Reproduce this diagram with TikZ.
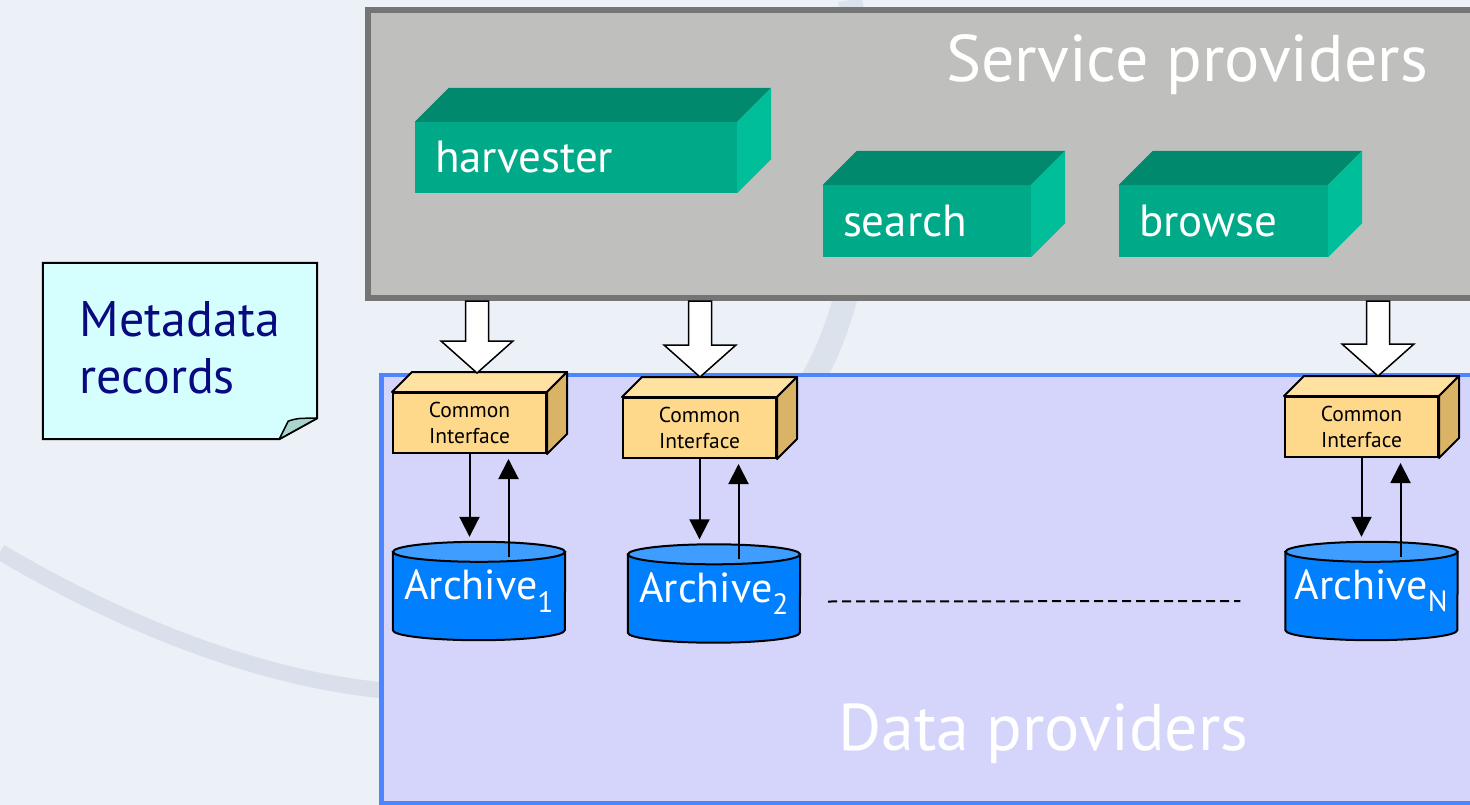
\documentclass[tikz,border=0pt]{standalone}
\usepackage{fontspec}
\setmainfont{PT Sans}
\usepackage{tikz}
\usetikzlibrary{arrows.meta}
\usetikzlibrary{calc}

\definecolor{bgcol}{HTML}{ECF0F7}
\definecolor{swirl}{HTML}{C3CDDD}
\definecolor{spgrey}{HTML}{BFC0BE}
\definecolor{spedge}{HTML}{757575}
\definecolor{dpfill}{HTML}{D5D5FB}
\definecolor{dpedge}{HTML}{4C85FF}
\definecolor{gfront}{HTML}{00A988}
\definecolor{gtop}{HTML}{00896C}
\definecolor{gside}{HTML}{00BE9A}
\definecolor{cifront}{HTML}{FFD98B}
\definecolor{citop}{HTML}{FFE1A2}
\definecolor{ciside}{HTML}{D9B466}
\definecolor{cylbody}{HTML}{0080FF}
\definecolor{cyltop}{HTML}{3F9DFF}
\definecolor{notefill}{HTML}{D5FFFF}
\definecolor{notecurl}{HTML}{A9D5CF}
\definecolor{navy}{HTML}{0A0A80}

% top and right face of a box drawn on a named front node
\newcommand{\prism}[4]{%
  \filldraw[#3] (#1.north west) -- ++(#2,-#2) -- ($(#1.north east)+(#2,-#2)$) -- (#1.north east) -- cycle;
  \filldraw[#4] (#1.north east) -- ++(#2,-#2) -- ($(#1.south east)+(#2,-#2)$) -- (#1.south east) -- cycle;}

% drum drawn round a named archive node
\newcommand{\drum}[1]{%
  \filldraw[fill=cylbody, draw=black, line width=2pt] (#1.north west) -- (#1.south west)
    arc[start angle=180, end angle=360, x radius=86pt, y radius=10pt] -- (#1.north east) -- cycle;
  \filldraw[fill=cyltop, draw=black, line width=2pt] (#1.north) ellipse[x radius=86pt, y radius=10pt];}

\tikzset{
  bigtitle/.style={text=white, font=\fontsize{66}{70}\selectfont, inner sep=0pt},
  tool/.style={fill=gfront, text=white, font=\fontsize{45}{50}\selectfont, inner xsep=20pt, inner ysep=0pt, align=left},
  iface/.style={draw=black, line width=2pt, fill=cifront, minimum width=153pt, minimum height=60pt, inner sep=0pt, align=center, font=\fontsize{21.5}{26}\selectfont},
  archive/.style={minimum width=172pt, minimum height=78pt, inner sep=0pt, text=white, font=\fontsize{42}{48}\selectfont},
  fat/.style={draw=black, line width=1.5pt, fill=white,
    to path={let \p1=(\tikztostart), \p2=(\tikztotarget) in
      ({\x1-11.5pt},\y1) -- ({\x1-11.5pt},{\y2+32pt}) -- ({\x1-36pt},{\y2+32pt}) -- (\x1,\y2)
      -- ({\x1+36pt},{\y2+32pt}) -- ({\x1+11.5pt},{\y2+32pt}) -- ({\x1+11.5pt},\y1) -- cycle}},
  link/.style={line width=2pt, -{Triangle[width=20pt,length=20pt]}},
}

\begin{document}
\begin{tikzpicture}[x=1pt, y=-1pt]
\useasboundingbox (0,0) rectangle (1470,805);
\clip (0,0) rectangle (1470,805);
\fill[bgcol] (0,0) rectangle (1470,805);
\draw[swirl, line width=16pt, opacity=.45] (0,552) .. controls (150,640) and (280,680) .. (380,690);
\draw[swirl, line width=24pt, opacity=.4] (850,0) .. controls (880,150) and (860,300) .. (812,380);

% service providers
\node[draw=spedge, fill=spgrey, line width=6pt, minimum width=1107pt, minimum height=288pt, inner sep=0pt] (sp) at (921.5,154) {};
\node[bigtitle, anchor=base east] (sptitle) at (1428,82) {Service providers};

\node[tool, minimum height=71pt, text width=282pt] (harv) at (576,157.5) {harvester};
\node[tool, minimum height=72pt, text width=168pt] (search) at (927,221) {search};
\node[tool, minimum height=72pt, text width=169pt] (browse) at (1223.5,221) {browse};
\prism{harv}{34}{fill=gtop, draw=none}{fill=gside, draw=none}
\prism{search}{34}{fill=gtop, draw=none}{fill=gside, draw=none}
\prism{browse}{34}{fill=gtop, draw=none}{fill=gside, draw=none}

% data providers
\node[draw=dpedge, fill=dpfill, line width=4.5pt, minimum width=1100pt, minimum height=428pt, inner sep=0pt] (dp) at (931.5,589) {};
\node[bigtitle, anchor=base west] (dptitle) at (838,750) {Data providers};

\node[iface] (ci1) at (469.5,423) {Common\\Interface};
\node[iface] (ci2) at (699.5,428) {Common\\Interface};
\node[iface] (ciN) at (1361.5,427) {Common\\Interface};
\prism{ci1}{20}{fill=citop, draw=black, line width=2pt, line join=round}{fill=ciside, draw=black, line width=2pt, line join=round}
\prism{ci2}{20}{fill=citop, draw=black, line width=2pt, line join=round}{fill=ciside, draw=black, line width=2pt, line join=round}
\prism{ciN}{20}{fill=citop, draw=black, line width=2pt, line join=round}{fill=ciside, draw=black, line width=2pt, line join=round}

\node[archive] (ar1) at (479,591) {};
\node[archive] (ar2) at (714,593.5) {};
\node[archive] (arN) at (1371.5,591) {};
\drum{ar1}
\drum{ar2}
\drum{arN}
\node[archive] (lab1) at (ar1) {Archive\textsubscript{1}};
\node[archive] (lab2) at (ar2) {Archive\textsubscript{2}};
\node[archive] (labN) at (arN) {Archive\textsubscript{N}};

% hollow arrows into the interfaces
\coordinate (t1) at (477,373);
\coordinate (t2) at (700,377);
\coordinate (tN) at (1378,376);
\draw[fat] (sp.south -| t1) to (t1);
\draw[fat] (sp.south -| t2) to (t2);
\draw[fat] (sp.south -| tN) to (tN);

% requests and replies
\draw[link] (ci1.south) -- ($(ci1.south |- ar1.north)+(0,-15)$);
\draw[link] ($(ci1.south |- ar1.north)+(39,5)$) -- ($(ci1.south)+(39,5)$);
\draw[link] (ci2.south) -- ($(ci2.south |- ar2.north)+(0,-15)$);
\draw[link] ($(ci2.south |- ar2.north)+(39,5)$) -- ($(ci2.south)+(39,5)$);
\draw[link] (ciN.south) -- ($(ciN.south |- arN.north)+(0,-15)$);
\draw[link] ($(ciN.south |- arN.north)+(39,5)$) -- ($(ciN.south)+(39,5)$);

\draw[line width=2pt, dash pattern=on 9pt off 5pt] ($(ar2.east)+(28,8)$) -- ($(arN.west)+(-45,10)$);

% note
\node[minimum width=274pt, minimum height=176pt, inner sep=0pt] (note) at (180,351) {};
\draw[fill=notefill, line width=2pt] (note.north west) -- (note.north east) -- ($(note.south east)+(0,-21)$)
  -- ($(note.south east)+(-38,0)$) -- (note.south west) -- cycle;
\node[align=left, text=navy, font=\fontsize{50}{57}\selectfont, inner sep=0pt] (notetext) at (180,348) {Metadata\\records};
\draw[fill=notecurl, line width=1.5pt, line join=round] ($(note.south east)+(-38,0)$) -- ($(note.south east)+(-29,-18)$)
  .. controls ($(note.south east)+(-20,-21)$) .. ($(note.south east)+(0,-21)$) -- cycle;
\end{tikzpicture}
\end{document}
